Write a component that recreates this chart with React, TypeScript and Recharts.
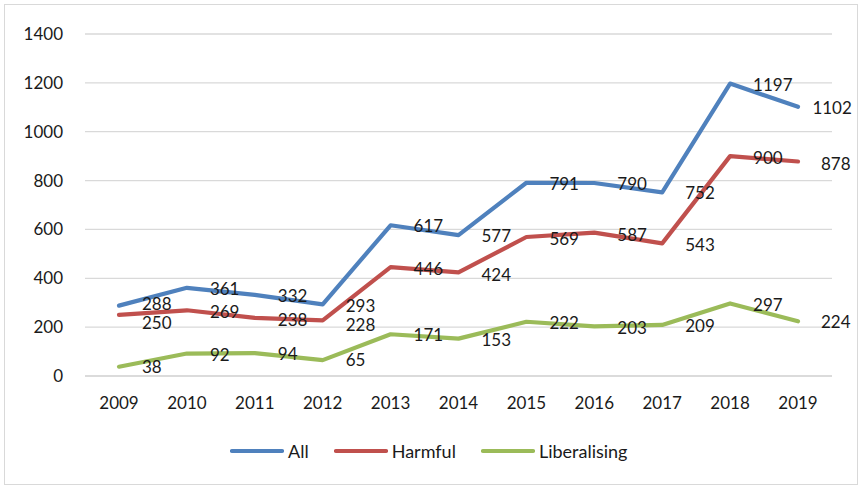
import { LineChart, Line, XAxis, YAxis, CartesianGrid, LabelList } from 'recharts';

const years = ['2009', '2010', '2011', '2012', '2013', '2014', '2015', '2016', '2017', '2018', '2019'];
const allValues = [288, 361, 332, 293, 617, 577, 791, 790, 752, 1197, 1102];
const harmfulValues = [250, 269, 238, 228, 446, 424, 569, 587, 543, 900, 878];
const liberalisingValues = [38, 92, 94, 65, 171, 153, 222, 203, 209, 297, 224];
const yTicks = [0, 200, 400, 600, 800, 1000, 1200, 1400];

const data = years.map((year, i) => ({
  year,
  all: allValues[i],
  harmful: harmfulValues[i],
  liberalising: liberalisingValues[i],
}));

const FONT = 'Lato, "Open Sans", sans-serif';
const TEXT = '#1a1a1a';
const PX_PER_UNIT = 342 / 1400;
const MIN_GAP = 19;

const seriesList = [
  { key: 'all', name: 'All', color: '#4f81bd' },
  { key: 'harmful', name: 'Harmful', color: '#c0504d' },
  { key: 'liberalising', name: 'Liberalising', color: '#9bbb59' },
];

// vertical nudge so the All / Harmful labels don't sit on top of each other
function labelShift(key: string, i: number) {
  const gap = (allValues[i] - harmfulValues[i]) * PX_PER_UNIT;
  if (gap >= MIN_GAP) return key === 'harmful' ? 2 : 1;
  const push = (MIN_GAP - gap) / 2;
  if (key === 'all') return 3 - push;
  if (key === 'harmful') return 3 + push;
  return 0;
}

// labels sit to the right of each point, nudged left if they'd run off the edge
function RightLabel(props: any) {
  const { x, y, value, index, seriesKey } = props;
  const w = String(value).length * 9.9;
  let tx = x + 23;
  if (tx + w > 852) tx = 852 - w;
  return (
    <text
      x={tx}
      y={y + labelShift(seriesKey, index)}
      dy="0.36em"
      textAnchor="start"
      fill={TEXT}
      fontSize={17}
      fontFamily={FONT}
    >
      {value}
    </text>
  );
}

export default function App() {
  return (
    <div
      style={{
        position: 'fixed',
        left: 0,
        top: 0,
        width: 860,
        height: 488,
        background: '#fff',
      }}
    >
      <div
        style={{
          position: 'absolute',
          left: 4,
          top: 4,
          width: 852,
          height: 479,
          border: '1px solid #d9d9d9',
        }}
      />
      <div style={{ position: 'absolute', left: 0, top: 0 }}>
        <LineChart
          width={860}
          height={488}
          data={data}
          margin={{ top: 34, right: 28, left: 0, bottom: 82 }}
        >
          <CartesianGrid vertical={false} stroke="#d9d9d9" strokeWidth={1.3} />
          <XAxis
            dataKey="year"
            padding={{ left: 34, right: 34 }}
            axisLine={{ stroke: '#d9d9d9', strokeWidth: 1.3 }}
            tickLine={false}
            tickSize={0}
            tickMargin={21}
            height={30}
            tick={{ fill: TEXT, fontSize: 17, fontFamily: FONT }}
          />
          <YAxis
            width={85}
            domain={[0, 1400]}
            ticks={yTicks}
            axisLine={false}
            tickLine={false}
            tickSize={0}
            tickMargin={22}
            tick={{ fill: TEXT, fontSize: 17, fontFamily: FONT }}
          />
          {seriesList.map((s) => (
            <Line
              key={s.key}
              type="linear"
              dataKey={s.key}
              name={s.name}
              stroke={s.color}
              strokeWidth={4.2}
              strokeLinejoin="round"
              strokeLinecap="round"
              dot={false}
              activeDot={false}
              isAnimationActive={false}
            >
              <LabelList dataKey={s.key} content={<RightLabel seriesKey={s.key} />} />
            </Line>
          ))}
        </LineChart>
      </div>
      <div
        style={{
          position: 'absolute',
          left: 230,
          top: 440,
          display: 'flex',
          alignItems: 'center',
          fontFamily: FONT,
          fontSize: 18,
          color: TEXT,
        }}
      >
        {seriesList.map((s) => (
          <div key={s.key} style={{ display: 'flex', alignItems: 'center', marginRight: 25 }}>
            <svg width={54} height={8} style={{ marginRight: 4 }}>
              <line x1={2} y1={4} x2={52} y2={4} stroke={s.color} strokeWidth={4.2} strokeLinecap="round" />
            </svg>
            <span>{s.name}</span>
          </div>
        ))}
      </div>
    </div>
  );
}
